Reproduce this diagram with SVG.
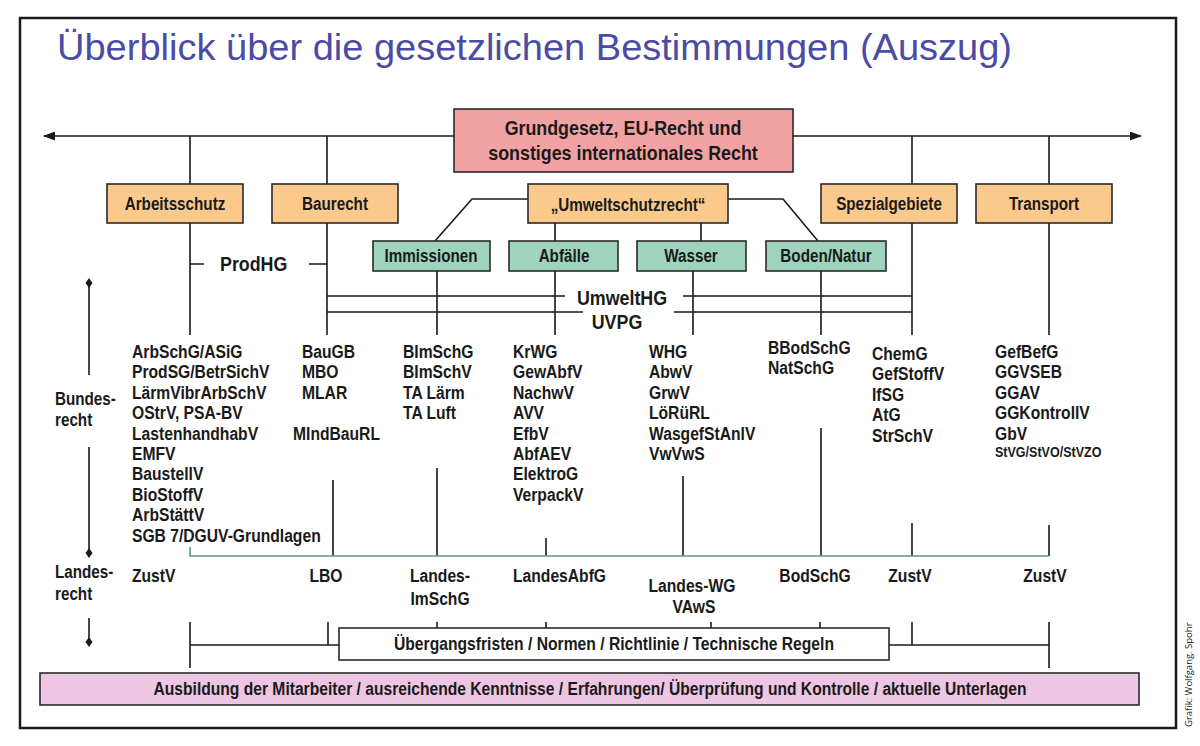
<svg xmlns="http://www.w3.org/2000/svg" width="1200" height="746" viewBox="0 0 1200 746">
<style>
.t{font-family:"Liberation Sans",Arial,sans-serif;font-weight:bold;fill:#1a1a1a}
.c{text-anchor:middle}
.box{font-size:17.5px}
.lst{font-size:18px}
.big{font-size:20.5px}
.ln{stroke:#1a1a1a;stroke-width:1.6;fill:none}
.orange{fill:#fbc98b;stroke:#2a2a2a;stroke-width:1.6}
.green{fill:#9dd4bb;stroke:#2a2a2a;stroke-width:1.6}
.axis{stroke:#1a1a1a;stroke-width:1.6}
</style>
<defs>
<marker id="ah" viewBox="0 0 12 9" refX="11" refY="4.5" markerWidth="12" markerHeight="9" markerUnits="userSpaceOnUse" orient="auto-start-reverse"><path d="M0,0 L12,4.5 L0,9 Z" fill="#1a1a1a"/></marker>
<path id="dia" d="M0,-5 L3.5,0 L0,5 L-3.5,0 Z" fill="#1a1a1a"/>
</defs>
<rect x="0" y="0" width="1200" height="746" fill="#ffffff"/>
<rect x="20" y="18" width="1156" height="710" fill="none" stroke="#1a1a1a" stroke-width="2.5"/>
<text x="57" y="60" font-family="'Liberation Sans',Arial,sans-serif" font-size="36" fill="#4b4ba3" textLength="955" lengthAdjust="spacingAndGlyphs">Überblick über die gesetzlichen Bestimmungen (Auszug)</text>

<g id="connectors">
<path class="ln" d="M44,136 H1141" marker-start="url(#ah)" marker-end="url(#ah)"/>
<path class="ln" d="M190,136 V184 M327,136 V184 M912,136 V184 M1049,136 V184"/>
<path class="ln" d="M190,223 V335 M327,223 V335 M912,223 V335 M1049,223 V335"/>
<path class="ln" d="M190,264 H204 M309,264 H327"/>
<path class="ln" d="M528,199 H472 L435,241 M728,199 H783 L818,241 M555,223 V241 M701,223 V241"/>
<path class="ln" d="M437,271 V335 M555,271 V335 M693,271 V335 M821,271 V335"/>
<path class="ln" d="M327,296 H565 M683,296 H912 M327,312 H583 M674,312 H912"/>
<path class="ln" d="M333,480 V556 M437,468 V556 M546,538 V556 M683,476 V556 M821,428 V556 M912,523 V556 M1049,525 V556"/>
<path d="M190,547 V556 H1049" fill="none" stroke="#5e9c6c" stroke-width="1.6"/>
<path class="ln" d="M190,622 V668 M190,645 H339 M328,622 V645 M437,622 V628 M546,622 V628 M711,622 V628 M820,622 V628 M889,645 H1049 M912,622 V645 M1049,622 V668"/>
</g>

<g id="axis">
<use href="#dia" x="89" y="283"/>
<use href="#dia" x="89" y="553"/>
<use href="#dia" x="89" y="642"/>
<path class="axis" d="M89,283 V375 M89,447 V553 M89,618 V642"/>
<g transform="translate(55,0) scale(0.87,1)">
<text class="t" x="0" y="405" font-size="17.5">Bundes-</text>
<text class="t" x="0" y="426" font-size="17.5">recht</text>
<text class="t" x="0" y="578" font-size="17.5">Landes-</text>
<text class="t" x="0" y="600" font-size="17.5">recht</text>
</g>
</g>

<g id="grundgesetz">
<rect x="454" y="109" width="339" height="63" fill="#f3a2a4" stroke="#2a2a2a" stroke-width="1.6"/>
<g transform="translate(623,0) scale(0.87,1)">
<text class="t c" x="0" y="135" font-size="20.5">Grundgesetz, EU-Recht und</text>
<text class="t c" x="0" y="160" font-size="20.5">sonstiges internationales Recht</text>
</g>
</g>

<g id="arbeitsschutz">
<rect class="orange" x="107" y="184" width="136" height="39"/>
<text class="t c box" transform="translate(175,210) scale(0.87,1)">Arbeitsschutz</text>
</g>
<g id="baurecht">
<rect class="orange" x="272" y="184" width="126" height="39"/>
<text class="t c box" transform="translate(335,210) scale(0.87,1)">Baurecht</text>
</g>
<g id="umweltschutzrecht">
<rect class="orange" x="528" y="184" width="200" height="39"/>
<text class="t c box" transform="translate(628,211) scale(0.87,1)">„Umweltschutzrecht“</text>
</g>
<g id="spezialgebiete">
<rect class="orange" x="821" y="184" width="136" height="39"/>
<text class="t c box" transform="translate(889,210) scale(0.87,1)">Spezialgebiete</text>
</g>
<g id="transport">
<rect class="orange" x="976" y="184" width="136" height="39"/>
<text class="t c box" transform="translate(1044,210) scale(0.87,1)">Transport</text>
</g>

<g id="immissionen">
<rect class="green" x="373" y="241" width="117" height="30"/>
<text class="t c box" transform="translate(431,262) scale(0.87,1)">Immissionen</text>
</g>
<g id="abfaelle">
<rect class="green" x="509" y="241" width="109" height="30"/>
<text class="t c box" transform="translate(564,262) scale(0.87,1)">Abfälle</text>
</g>
<g id="wasser">
<rect class="green" x="637" y="241" width="109" height="30"/>
<text class="t c box" transform="translate(691,262) scale(0.87,1)">Wasser</text>
</g>
<g id="boden">
<rect class="green" x="766" y="241" width="120" height="30"/>
<text class="t c box" transform="translate(826,262) scale(0.87,1)">Boden/Natur</text>
</g>

<g id="prodhg"><text class="t big" transform="translate(220,271) scale(0.87,1)">ProdHG</text></g>
<g id="umwelthg"><text class="t c big" transform="translate(622,305) scale(0.87,1)">UmweltHG</text></g>
<g id="uvpg"><text class="t c big" transform="translate(617,329) scale(0.87,1)">UVPG</text></g>

<g id="list-arbeitsschutz" transform="translate(132,0) scale(0.87,1)">
<text class="t lst" x="0" y="358">ArbSchG/ASiG</text>
<text class="t lst" x="0" y="378.4">ProdSG/BetrSichV</text>
<text class="t lst" x="0" y="398.8">LärmVibrArbSchV</text>
<text class="t lst" x="0" y="419.2">OStrV, PSA-BV</text>
<text class="t lst" x="0" y="439.6">LastenhandhabV</text>
<text class="t lst" x="0" y="460">EMFV</text>
<text class="t lst" x="0" y="480.4">BaustellV</text>
<text class="t lst" x="0" y="500.8">BioStoffV</text>
<text class="t lst" x="0" y="521.2">ArbStättV</text>
<text class="t lst" x="0" y="541.6">SGB 7/DGUV-Grundlagen</text>
</g>
<g id="list-baurecht" transform="translate(302,0) scale(0.87,1)">
<text class="t lst" x="0" y="358">BauGB</text>
<text class="t lst" x="0" y="378.4">MBO</text>
<text class="t lst" x="0" y="398.8">MLAR</text>
<text class="t lst" x="-10.3" y="439.6">MIndBauRL</text>
</g>
<g id="list-immissionen" transform="translate(403,0) scale(0.87,1)">
<text class="t lst" x="0" y="358">BImSchG</text>
<text class="t lst" x="0" y="378.4">BImSchV</text>
<text class="t lst" x="0" y="398.8">TA Lärm</text>
<text class="t lst" x="0" y="419.2">TA Luft</text>
</g>
<g id="list-abfaelle" transform="translate(513,0) scale(0.87,1)">
<text class="t lst" x="0" y="358">KrWG</text>
<text class="t lst" x="0" y="378.4">GewAbfV</text>
<text class="t lst" x="0" y="398.8">NachwV</text>
<text class="t lst" x="0" y="419.2">AVV</text>
<text class="t lst" x="0" y="439.6">EfbV</text>
<text class="t lst" x="0" y="460">AbfAEV</text>
<text class="t lst" x="0" y="480.4">ElektroG</text>
<text class="t lst" x="0" y="500.8">VerpackV</text>
</g>
<g id="list-wasser" transform="translate(649,0) scale(0.87,1)">
<text class="t lst" x="0" y="358">WHG</text>
<text class="t lst" x="0" y="378.4">AbwV</text>
<text class="t lst" x="0" y="398.8">GrwV</text>
<text class="t lst" x="0" y="419.2">LöRüRL</text>
<text class="t lst" x="0" y="439.6">WasgefStAnlV</text>
<text class="t lst" x="0" y="460">VwVwS</text>
</g>
<g id="list-boden" transform="translate(768,0) scale(0.87,1)">
<text class="t lst" x="0" y="354">BBodSchG</text>
<text class="t lst" x="0" y="374.4">NatSchG</text>
</g>
<g id="list-spezial" transform="translate(872,0) scale(0.87,1)">
<text class="t lst" x="0" y="360">ChemG</text>
<text class="t lst" x="0" y="380.4">GefStoffV</text>
<text class="t lst" x="0" y="400.8">IfSG</text>
<text class="t lst" x="0" y="421.2">AtG</text>
<text class="t lst" x="0" y="441.6">StrSchV</text>
</g>
<g id="list-transport" transform="translate(995,0) scale(0.87,1)">
<text class="t lst" x="0" y="358">GefBefG</text>
<text class="t lst" x="0" y="378.4">GGVSEB</text>
<text class="t lst" x="0" y="398.8">GGAV</text>
<text class="t lst" x="0" y="419.2">GGKontrollV</text>
<text class="t lst" x="0" y="439.6">GbV</text>
<text class="t" x="0" y="457.5" font-size="14.4">StVG/StVO/StVZO</text>
</g>

<g id="landesrecht">
<text class="t lst" transform="translate(132,582) scale(0.87,1)">ZustV</text>
<text class="t lst c" transform="translate(326,582) scale(0.87,1)">LBO</text>
<text class="t lst c" transform="translate(440,582) scale(0.87,1)">Landes-</text>
<text class="t lst c" transform="translate(440,605) scale(0.87,1)">ImSchG</text>
<text class="t lst" transform="translate(513,582) scale(0.87,1)">LandesAbfG</text>
<text class="t lst c" transform="translate(692,592) scale(0.87,1)">Landes-WG</text>
<text class="t lst c" transform="translate(694,613) scale(0.87,1)">VAwS</text>
<text class="t lst c" transform="translate(815,582) scale(0.87,1)">BodSchG</text>
<text class="t lst c" transform="translate(910,582) scale(0.87,1)">ZustV</text>
<text class="t lst c" transform="translate(1045,582) scale(0.87,1)">ZustV</text>
</g>

<g id="uebergang">
<rect x="339" y="628" width="550" height="32" fill="#ffffff" stroke="#2a2a2a" stroke-width="1.6"/>
<text class="t c box" x="614" y="650" textLength="440" lengthAdjust="spacingAndGlyphs">Übergangsfristen / Normen / Richtlinie / Technische Regeln</text>
</g>
<g id="ausbildung">
<rect x="40" y="673" width="1099" height="32" fill="#ecc6e3" stroke="#2a2a2a" stroke-width="1.6"/>
<text class="t c box" x="590" y="695" textLength="873" lengthAdjust="spacingAndGlyphs">Ausbildung der Mitarbeiter / ausreichende Kenntnisse / Erfahrungen/ Überprüfung und Kontrolle / aktuelle Unterlagen</text>
</g>

<text x="1192" y="727" transform="rotate(-90 1192 727)" font-family="'Open Sans','Liberation Sans',sans-serif" font-size="9.5" fill="#1a1a1a">Grafik: Wolfgang. Spohr</text>
</svg>
